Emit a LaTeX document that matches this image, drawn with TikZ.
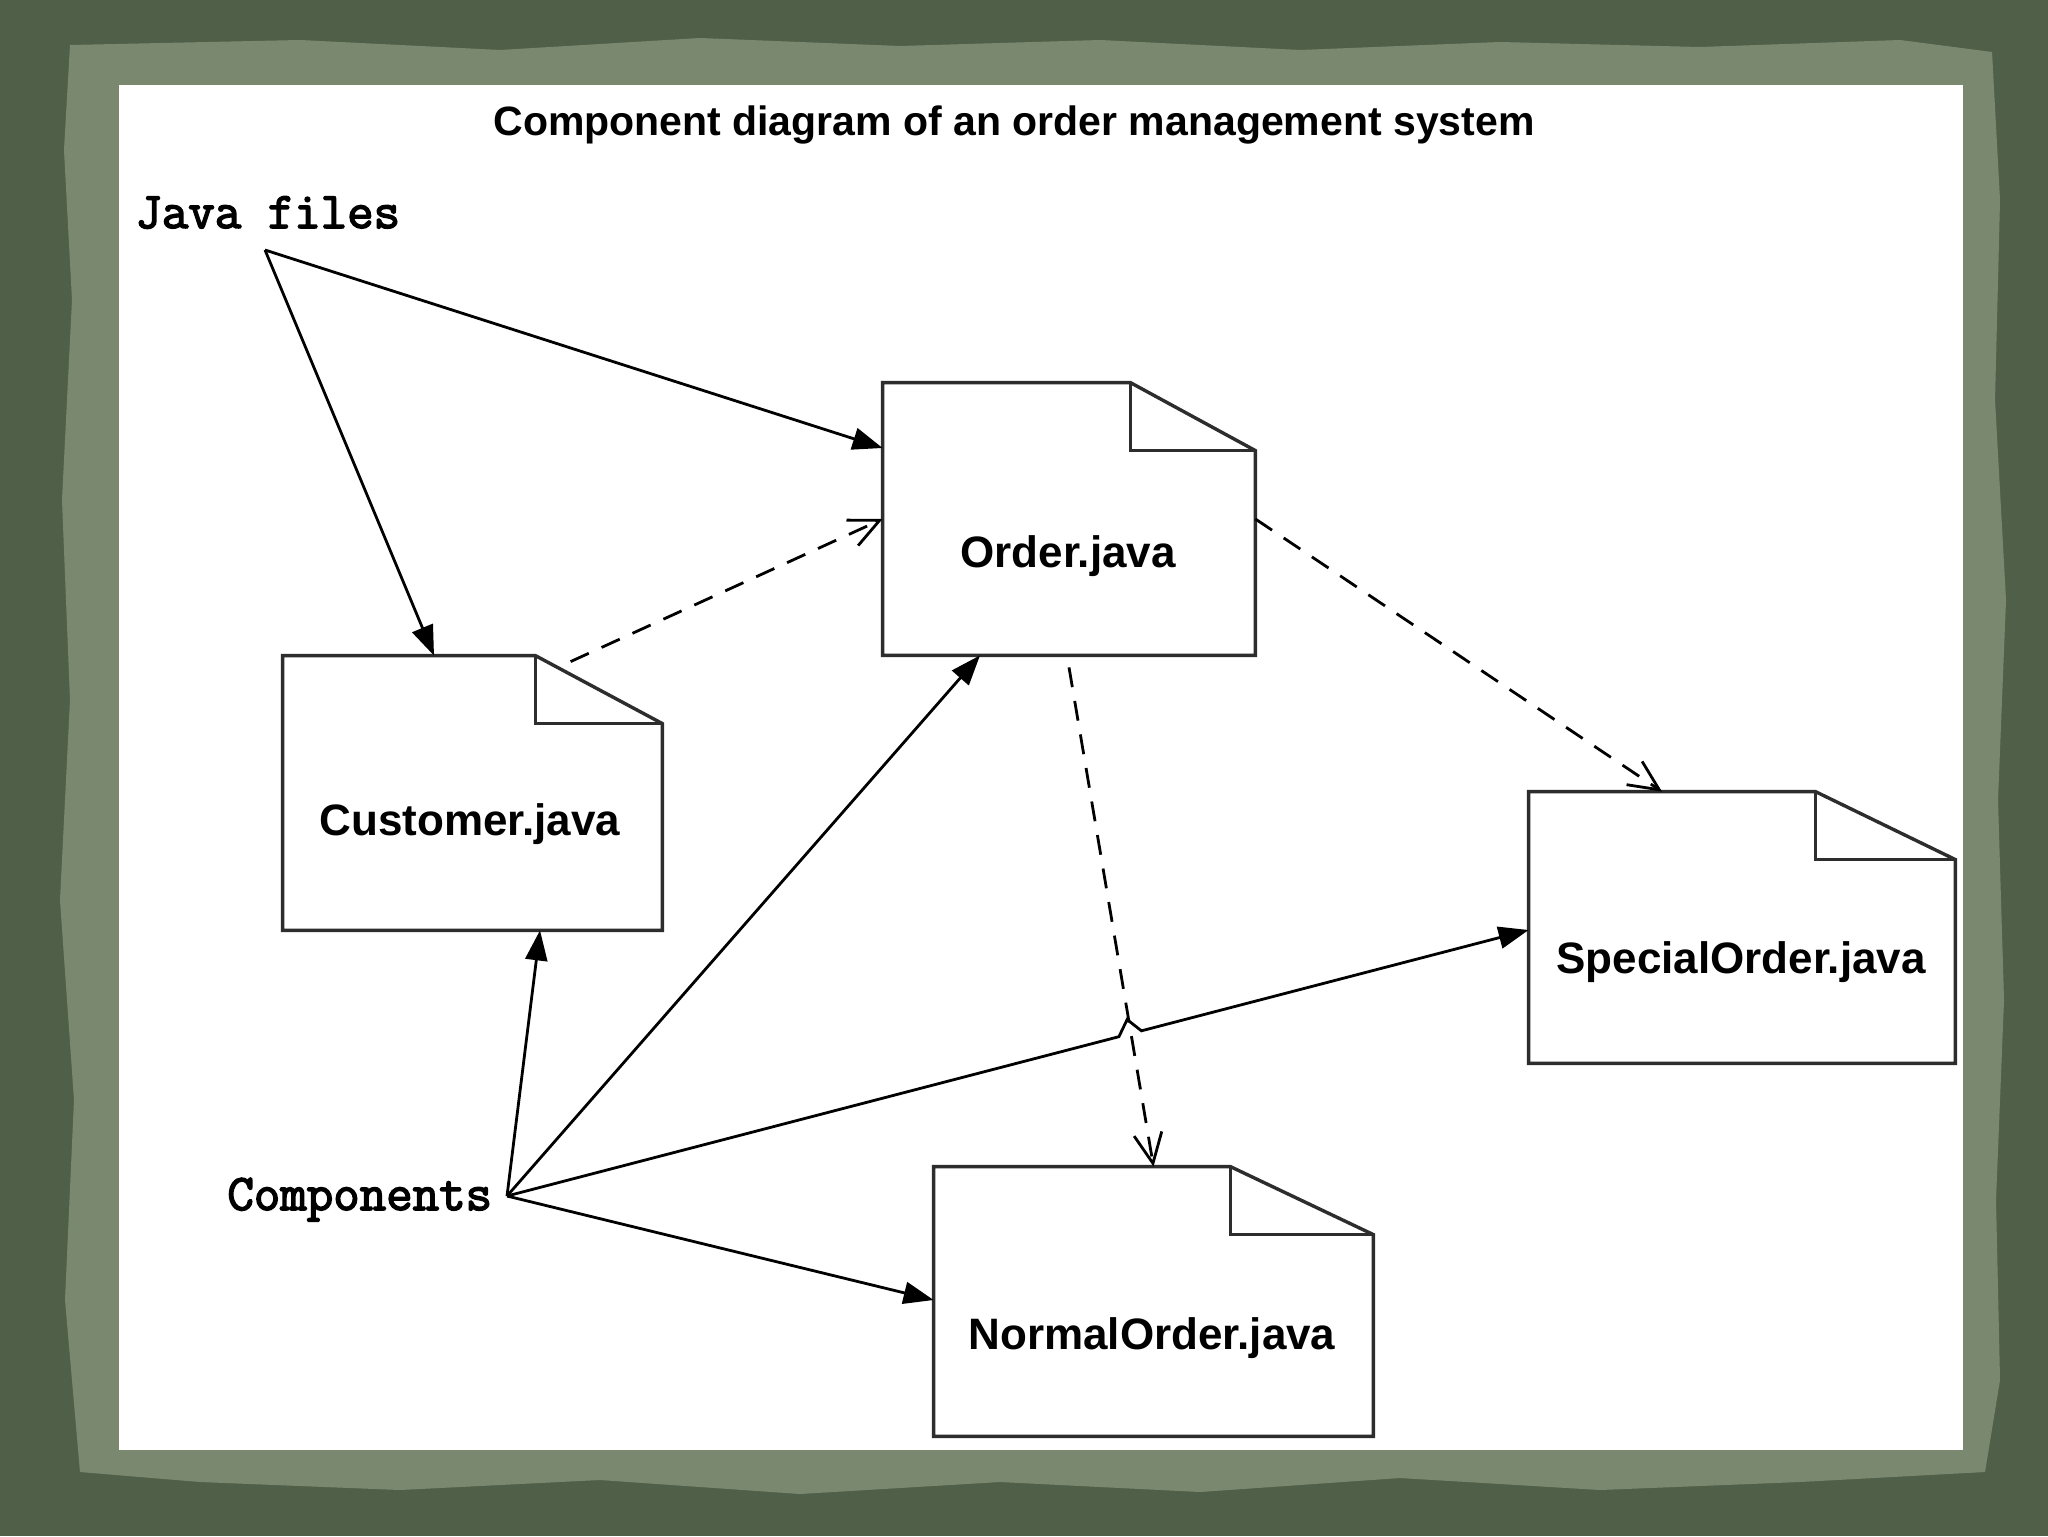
\documentclass[tikz,border=0pt]{standalone}
\usepackage{fontspec}
\setmainfont{Liberation Sans}
\newfontfamily\monob{Latin Modern Mono}[FakeBold=3]
\usetikzlibrary{arrows.meta,calc}
\definecolor{bgdark}{RGB}{80,96,72}
\definecolor{bglight}{RGB}{122,136,112}
\definecolor{ink}{RGB}{45,45,45}
\tikzset{
  docbox/.style={draw=none, inner sep=0pt},
  docline/.style={draw=ink, line width=1.7pt, line join=miter},
  doclabel/.style={font=\bfseries\fontsize{22}{26}\selectfont, anchor=base, inner sep=0pt, text=black},
  monolabel/.style={font=\monob\fontsize{25.7}{30}\selectfont, anchor=base west, inner sep=0pt, text=black},
  conn/.style={draw=black, line width=1.4pt},
  solidarrow/.style={conn, -{Triangle[length=15pt,width=11pt]}},
  deparrow/.style={conn, dash pattern=on 10pt off 7pt, -{Straight Barb[length=15pt,width=14pt]}}
}
\newcommand\docoutline[2]{%
  \draw[docline, fill=white] (#1.north west) -- ([xshift=-#2]#1.north east) -- ([yshift=-34pt]#1.north east) -- (#1.south east) -- (#1.south west) -- cycle;
  \draw[docline] ([xshift=-#2]#1.north east) |- ([yshift=-34pt]#1.north east);
}
\begin{document}
\begin{tikzpicture}[x=0.5pt,y=-0.5pt]
\useasboundingbox (0,0) rectangle (2048,1536);
% background
\fill[bgdark] (0,0) rectangle (2048,1536);
\fill[bglight] (70,45) -- (300,40) -- (500,50) -- (700,38) -- (900,46) -- (1100,40) -- (1300,50) -- (1500,42) -- (1700,47) -- (1900,40) -- (1992,52)
  -- (2000,200) -- (1995,400) -- (2006,600) -- (1998,800) -- (2004,1000) -- (1996,1200) -- (2000,1380) -- (1985,1472)
  -- (1800,1482) -- (1600,1490) -- (1400,1478) -- (1200,1492) -- (1000,1482) -- (800,1494) -- (600,1480) -- (400,1490) -- (200,1482) -- (80,1472)
  -- (65,1300) -- (74,1100) -- (60,900) -- (70,700) -- (62,500) -- (72,300) -- (64,150) -- cycle;
\fill[white] (119,85) rectangle (1963,1450);

% title
\node[font=\bfseries\fontsize{20.5}{24}\selectfont, anchor=base, inner sep=0pt] (title) at (1014,135) {Component diagram of an order management system};

% documents
\node[docbox, minimum width=186pt, minimum height=136pt] (order) at (1069,519) {};
\node[docbox, minimum width=189.5pt, minimum height=137pt] (customer) at (472.5,793) {};
\node[docbox, minimum width=213pt, minimum height=135.5pt] (special) at (1742,927.5) {};
\node[docbox, minimum width=219.5pt, minimum height=134.5pt] (normal) at (1153.5,1301.5) {};
\docoutline{order}{62.5pt}
\docoutline{customer}{63.5pt}
\docoutline{special}{70pt}
\docoutline{normal}{71.5pt}
\node[doclabel] (orderlbl) at (1068,567) {Order.java};
\node[doclabel] (customerlbl) at (470,835) {Customer.java};
\node[doclabel] (speciallbl) at (1741,973) {SpecialOrder.java};
\node[doclabel] (normallbl) at (1152,1349) {NormalOrder.java};

% labels
\node[monolabel] (javafiles) at (135,228) {Java files};
\node[monolabel] (components) at (227,1210) {Components};
\coordinate (jfo) at (265,250);
\coordinate (co) at (507,1196);

% Java files arrows
\draw[solidarrow] (jfo) -- (order.west |- 0,448);
\draw[solidarrow] (jfo) -- (customer.north -| 434,0);

% dependencies
\draw[deparrow] ([xshift=144pt,yshift=-3pt]customer.north west) -- (order.west);
\draw[deparrow] (order.east) -- (special.north -| 1662,0);
\draw[deparrow] ([yshift=-6pt]order.south) -- (normal.north);

% Components arrows
\draw[solidarrow] (co) -- (customer.south -| 540,0);
\draw[solidarrow] (co) -- (order.south -| 980,0);
\coordinate (spt) at (special.west |- 0,930);
\draw[solidarrow] (co) -- ($(co)!0.599!(spt)$) -- ($(co)!0.607!(spt)+(0,-15)$) -- ($(co)!0.621!(spt)$) -- (spt);
\draw[solidarrow] (co) -- (normal.west |- 0,1300);
\end{tikzpicture}
\end{document}
